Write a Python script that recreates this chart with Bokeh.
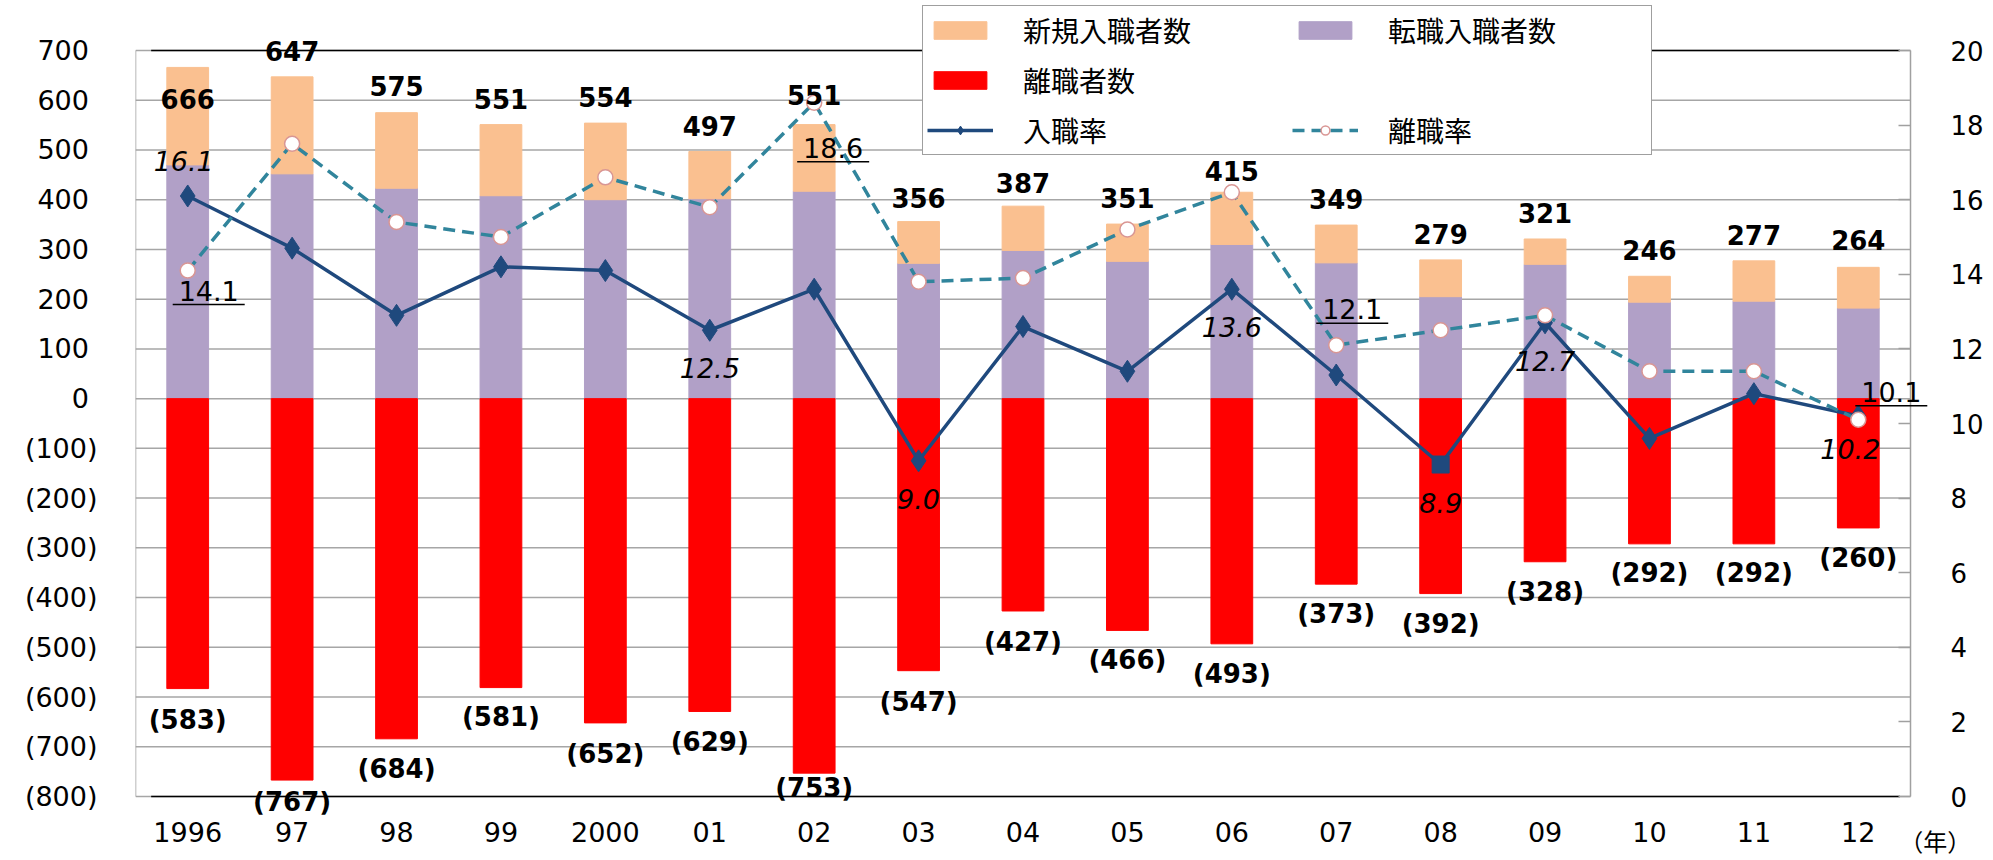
import json
from bokeh.plotting import figure
from bokeh.models import (ColumnDataSource, Range1d, LinearAxis, FixedTicker,
                          CustomJSTickFormatter, LabelSet, Legend, LegendItem, Label)
from bokeh.core.properties import value
from bokeh.embed import file_html
from bokeh.resources import INLINE

# ---------------- data ----------------
years = ["1996", "97", "98", "99", "2000", "01", "02", "03", "04", "05",
         "06", "07", "08", "09", "10", "11", "12"]
total_hires = [666, 647, 575, 551, 554, 497, 551, 356, 387, 351, 415, 349, 279, 321, 246, 277, 264]
transfer_hires = [470, 452, 423, 408, 400, 402, 417, 272, 298, 276, 310, 273, 205, 270, 194, 196, 182]
new_hires = [196, 195, 152, 143, 154, 95, 134, 84, 89, 75, 105, 76, 74, 51, 52, 81, 82]
separations = [583, 767, 684, 581, 652, 629, 753, 547, 427, 466, 493, 373, 392, 328, 292, 292, 260]
hire_rate = [16.1, 14.7, 12.9, 14.2, 14.1, 12.5, 13.6, 9.0, 12.6, 11.4, 13.6, 11.3, 8.9, 12.7, 9.6, 10.8, 10.2]
sep_rate = [14.1, 17.5, 15.4, 15.0, 16.6, 15.8, 18.6, 13.8, 13.9, 15.2, 16.2, 12.1, 12.5, 12.9, 11.4, 11.4, 10.1]

hire_rate_label_years = ["1996", "01", "03", "06", "08", "09", "12"]
sep_rate_label_years = ["1996", "02", "07", "12"]

y_ticks = list(range(-800, 701, 100))
rate_ticks = list(range(0, 21, 2))
Y_MIN, Y_MAX = -800, 700
R_MIN, R_MAX = 0, 20

# ---------------- styles / geometry ----------------
ORANGE = "#FAC090"
PURPLE = "#B1A0C7"
RED = "#FF0000"
NAVY = "#1F497D"
TEAL = "#31859C"
GRID = "#A6A6A6"
FONT = "DejaVu Sans"
CJK = "Noto Sans CJK JP"

W, H = 1993, 860
LEFT = 135                 # frame left (px)
PLOT_W = 1775              # width of the bar area
PLOT_TOP, PLOT_BOT = 50, 796   # bar area top / bottom (px)
FRAME_W = W - LEFT
n = len(years)
kx = PLOT_W / n
ky = (PLOT_BOT - PLOT_TOP) / (Y_MAX - Y_MIN)
kr = (PLOT_BOT - PLOT_TOP) / (R_MAX - R_MIN)
x_end = FRAME_W / kx
y_hi = Y_MAX + PLOT_TOP / ky
y_lo = Y_MIN - (H - PLOT_BOT) / ky
r_hi = R_MAX + PLOT_TOP / kr
r_lo = R_MIN - (H - PLOT_BOT) / kr

total_dy = [-32, 26, 27, 26, 26, 25, 30, 24, 23, 26, 21, 26, 26, 26, 26, 26, 27]
sep_dy = [-31, -22, -30, -29, -31, -31, -15, -31, -31, -30, -30, -30, -30, -30, -29, -29, -30]
markers = ["diamond"] * n
markers[years.index("08")] = "square"
marker_size = [22] * n
marker_size[years.index("08")] = 17

hr_dx = [-4, 0, 0, 0, 0, 0, -8]
hr_dy = [35, -38, -38, -38, -38, -38, -33]
sr_dx = [21, 19, 16, 33]
sr_dy = [-20, -45, 36, 28]

xs = [i + 0.5 for i in range(n)]

src = ColumnDataSource(dict(
    x=xs, year=years, new=new_hires, transfer=transfer_hires, total=total_hires,
    sep_neg=[-s for s in separations], hr=hire_rate, sr=sep_rate,
    total_lbl=[str(v) for v in total_hires],
    sep_lbl=["(%d)" % s for s in separations],
    total_dy=total_dy, sep_dy=sep_dy, marker=markers, msize=marker_size,
))

p = figure(x_range=Range1d(0, x_end), y_range=Range1d(y_lo, y_hi),
           width=W, height=H, output_backend="svg", toolbar_location=None,
           min_border=0, min_border_left=LEFT, min_border_right=0,
           min_border_top=0, min_border_bottom=0)
p.extra_y_ranges = {"rate": Range1d(r_lo, r_hi)}

p.background_fill_color = "white"
p.border_fill_color = "white"
p.outline_line_color = None
p.xgrid.grid_line_color = None
p.ygrid.grid_line_color = None

# horizontal gridlines and plot-area border
p.segment(x0=[0] * len(y_ticks), x1=[n] * len(y_ticks), y0=y_ticks, y1=y_ticks,
          line_color=GRID, line_width=1.5)
p.segment(x0=[0, n], x1=[0, n], y0=[Y_MIN, Y_MIN], y1=[Y_MAX, Y_MAX],
          line_color="#A0A0A0", line_width=1.5)

# left axis
ya = p.yaxis[0]
ya.ticker = FixedTicker(ticks=y_ticks)
ya.formatter = CustomJSTickFormatter(code="""
    return tick < 0 ? "(" + Math.abs(tick) + ")" : tick + "\\u2008";
""")
ya.major_label_text_font = FONT
ya.major_label_text_font_size = "27px"
ya.major_label_text_color = "black"
ya.major_label_standoff = 38
ya.major_tick_in = 0
ya.major_tick_out = 0
ya.minor_tick_line_color = None
ya.axis_line_color = None

# bottom axis (drawn at the bottom of the bar area)
xa = p.xaxis[0]
xa.fixed_location = Y_MIN
xa.ticker = FixedTicker(ticks=xs)
xa.formatter = CustomJSTickFormatter(code="const labels = %s; return labels[Math.floor(tick)];"
                                     % json.dumps(years))
xa.major_label_text_font = FONT
xa.major_label_text_font_size = "27px"
xa.major_label_text_color = "black"
xa.major_label_standoff = 25
xa.major_tick_in = 0
xa.major_tick_out = 0
xa.minor_tick_line_color = None
xa.axis_line_color = None

# right axis (drawn at the right edge of the bar area)
ra = LinearAxis(y_range_name="rate", ticker=FixedTicker(ticks=rate_ticks), fixed_location=n)
ra.major_label_text_font = FONT
ra.major_label_text_font_size = "26px"
ra.major_label_text_color = "black"
ra.major_label_standoff = 40
ra.major_tick_in = 12
ra.major_tick_out = 0
ra.major_tick_line_color = "#A0A0A0"
ra.major_tick_line_width = 1.5
ra.minor_tick_line_color = None
ra.axis_line_color = None
p.add_layout(ra, "right")

# black top / bottom lines
p.segment(x0=[0.15, 0.15], x1=[n - 0.1, n - 0.1], y0=[Y_MAX, Y_MIN], y1=[Y_MAX, Y_MIN],
          line_color="black", line_width=1.5)

# bars
stack = p.vbar_stack(["transfer", "new"], x="x", width=0.4, color=[PURPLE, ORANGE], source=src)
r_red = p.vbar(x="x", top=0, bottom="sep_neg", width=0.4, color=RED, source=src)

# rate lines
l_h = p.line("x", "hr", y_range_name="rate", line_color=NAVY, line_width=3.5, source=src)
s_h = p.scatter("x", "hr", y_range_name="rate", marker="marker", size="msize",
                fill_color=NAVY, line_color=NAVY, source=src)
l_s = p.line("x", "sr", y_range_name="rate", line_color=TEAL, line_width=3.5,
             line_dash="12 7", source=src)
s_s = p.scatter("x", "sr", y_range_name="rate", marker="circle", size=15,
                fill_color="white", line_color="#D99694", line_width=1.5, source=src)

# value labels on bars
p.add_layout(LabelSet(x="x", y="total", text="total_lbl", y_offset="total_dy", source=src,
                      text_align="center", text_baseline="middle", text_font=value(FONT),
                      text_font_size="26px", text_font_style="bold", text_color="black"))
p.add_layout(LabelSet(x="x", y="sep_neg", text="sep_lbl", y_offset="sep_dy", source=src,
                      text_align="center", text_baseline="middle", text_font=value(FONT),
                      text_font_size="26px", text_font_style="bold", text_color="black"))

# rate labels
hr_idx = [years.index(y) for y in hire_rate_label_years]
hr_vals = [hire_rate[i] for i in hr_idx]
hr_src = ColumnDataSource(dict(x=[xs[i] for i in hr_idx], v=hr_vals,
                               t=["%.1f" % v for v in hr_vals], dx=hr_dx, dy=hr_dy))
p.add_layout(LabelSet(x="x", y="v", text="t", x_offset="dx", y_offset="dy", source=hr_src,
                      y_range_name="rate", text_align="center", text_baseline="middle",
                      text_font=value(FONT), text_font_size="27px", text_font_style="italic",
                      text_color="black"))

sr_idx = [years.index(y) for y in sep_rate_label_years]
sr_vals = [sep_rate[i] for i in sr_idx]
sr_src = ColumnDataSource(dict(x=[xs[i] for i in sr_idx], v=sr_vals,
                               t=["%.1f" % v for v in sr_vals], dx=sr_dx, dy=sr_dy))
p.add_layout(LabelSet(x="x", y="v", text="t", x_offset="dx", y_offset="dy", source=sr_src,
                      y_range_name="rate", text_align="center", text_baseline="middle",
                      text_font=value(FONT), text_font_size="27px", text_color="black"))
# underline of the separation-rate labels
ul_x0, ul_x1, ul_y = [], [], []
for i, v, dx, dy in zip(sr_idx, sr_vals, sr_dx, sr_dy):
    ul_x0.append(xs[i] + (dx - 36) / kx)
    ul_x1.append(xs[i] + (dx + 36) / kx)
    ul_y.append(v + (dy - 14) / kr)
p.segment(x0=ul_x0, y0=ul_y, x1=ul_x1, y1=ul_y, y_range_name="rate",
          line_color="black", line_width=1.5)

# year unit
p.add_layout(Label(x=xs[-1], y=Y_MIN, x_offset=77, y_offset=-44, text="（年）",
                   text_align="center", text_baseline="middle", text_font=CJK,
                   text_font_size="24px", text_color="black"))

# legend
dummy = p.scatter(x=[], y=[], fill_alpha=0, line_alpha=0)
legend = Legend(items=[
    LegendItem(label="新規入職者数", renderers=[stack[1]]),
    LegendItem(label="転職入職者数", renderers=[stack[0]]),
    LegendItem(label="離職者数", renderers=[r_red]),
    LegendItem(label=" ", renderers=[dummy]),
    LegendItem(label="入職率", renderers=[l_h, s_h]),
    LegendItem(label="離職率", renderers=[l_s, s_s]),
], location=(787, 705), orientation="horizontal", ncols=2)
legend.label_text_font = CJK
legend.label_text_font_size = "28px"
legend.label_text_color = "black"
legend.glyph_width = 66
legend.glyph_height = 22
legend.label_standoff = 30
legend.label_width = 259
legend.label_height = 31
legend.spacing = 10
legend.padding = 4
legend.margin = 0
legend.border_line_color = "#404040"
legend.border_line_width = 1.5
legend.background_fill_color = "white"
legend.background_fill_alpha = 1
p.add_layout(legend)

open("out.html", "w").write(file_html(p, INLINE))
